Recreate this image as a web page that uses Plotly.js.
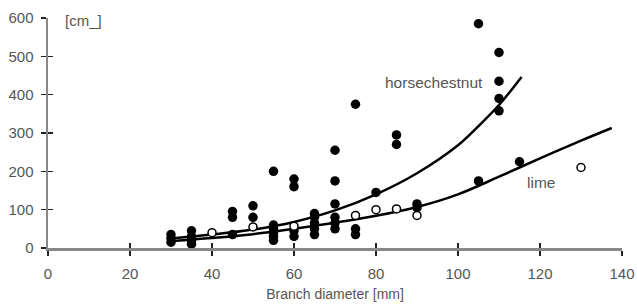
<!DOCTYPE html>
<html>
<head>
<meta charset="utf-8">
<script src="https://cdn.plot.ly/plotly-3.0.1.min.js"></script>
<style>html,body{margin:0;padding:0;background:#fff;}#chart{width:637px;height:304px;}</style>
</head>
<body>
<div id="chart"></div>
<script>
// Horsechestnut (filled dots)
const horseX = [30,30,30,35,35,35,35,45,45,45,50,50,55,55,55,55,55,55,60,60,60,60,65,65,65,65,65,70,70,70,70,70,70,75,75,75,80,85,85,90,90,105,105,110,110,110,110,115];
const horseY = [15,25,35,10,20,30,45,35,80,95,80,110,200,20,30,40,50,60,180,160,30,45,35,50,65,80,90,255,175,115,80,65,50,375,50,35,145,295,270,105,115,175,585,510,435,390,358,225];
// Lime (open circles)
const limeX = [40,50,60,75,80,85,90,130];
const limeY = [40,55,57,85,100,102,85,210];
// Trend curves
const horseCurveX = [30,40,50,60,70,80,90,100,105,110,115.5];
const horseCurveY = [25,35,48,68,98,140,195,268,318,373,446];
const limeCurveX = [30,40,50,60,70,80,90,100,110,120,130,137.5];
const limeCurveY = [18,26,36,50,66,84,107,140,186,234,280,313];
// Axis ticks
const xTicks = [0,20,40,60,80,100,120,140];
const yTicks = [0,100,200,300,400,500,600];

const txt = '#555';
const fontFam = 'Liberation Sans, Arial, sans-serif';

const traces = [
  {x: horseCurveX, y: horseCurveY, mode: 'lines', line: {color: '#000', width: 2.5, shape: 'spline'}, hoverinfo: 'skip'},
  {x: limeCurveX, y: limeCurveY, mode: 'lines', line: {color: '#000', width: 2.5, shape: 'spline'}, hoverinfo: 'skip'},
  {x: horseX, y: horseY, mode: 'markers', marker: {color: '#000', size: 9.5}},
  {x: limeX, y: limeY, mode: 'markers', marker: {color: '#fff', size: 8, line: {color: '#000', width: 1.5}}},
  {x: [0], y: [0], xaxis: 'x2', yaxis: 'y2', mode: 'markers', marker: {opacity: 0}, hoverinfo: 'skip'}
];

const axBase = {
  showgrid: false, zeroline: false, showline: true, linecolor: '#888', linewidth: 2.5,
  ticks: 'outside', ticklen: 5, tickwidth: 1.5, tickcolor: '#222',
  tickfont: {family: fontFam, size: 15, color: txt}
};

const layout = {
  width: 637, height: 304,
  margin: {l: 48, r: 15, t: 18, b: 56},
  paper_bgcolor: '#fff', plot_bgcolor: '#fff',
  showlegend: false,
  font: {family: fontFam, color: txt},
  xaxis: Object.assign({}, axBase, {
    range: [0, 140], tickvals: xTicks, ticktext: xTicks.map(String),
    ticklabelstandoff: 5,
    title: {text: 'Branch diameter [mm]', font: {family: fontFam, size: 14, color: txt}, standoff: 9}
  }),
  yaxis: Object.assign({}, axBase, {
    range: [0, 600], tickvals: yTicks, ticktext: yTicks.map(String),
    ticklabelstandoff: 4
  }),
  xaxis2: {overlaying: 'x', range: [0, 140], tickvals: xTicks, ticks: 'inside', ticklen: 5, tickwidth: 1.5, tickcolor: '#222', showticklabels: false, showgrid: false, zeroline: false, showline: false, side: 'bottom'},
  yaxis2: {overlaying: 'y', range: [0, 600], tickvals: yTicks, ticks: 'inside', ticklen: 5, tickwidth: 1.5, tickcolor: '#222', showticklabels: false, showgrid: false, zeroline: false, showline: false, side: 'left'},
  annotations: [
    {text: '[cm_]', xref: 'paper', yref: 'paper', x: 15/574, y: 1, xanchor: 'left', yanchor: 'middle', yshift: -2, showarrow: false, font: {family: fontFam, size: 15, color: txt}},
    {text: 'horsechestnut', xref: 'x', yref: 'y', x: 81.8, y: 433, xanchor: 'left', yanchor: 'middle', showarrow: false, font: {family: fontFam, size: 15.5, color: txt}},
    {text: 'lime', xref: 'x', yref: 'y', x: 116.3, y: 172, xanchor: 'left', yanchor: 'middle', showarrow: false, font: {family: fontFam, size: 15.5, color: txt}}
  ]
};

Plotly.newPlot('chart', traces, layout, {staticPlot: true, displayModeBar: false});
</script>
</body>
</html>
